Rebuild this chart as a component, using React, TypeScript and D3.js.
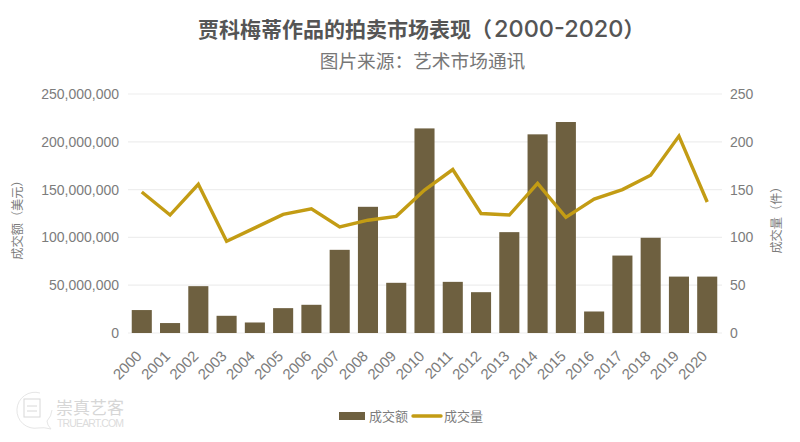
import * as d3 from "d3";
import React, { useEffect, useRef } from "react";

const years = ["2000","2001","2002","2003","2004","2005","2006","2007","2008","2009","2010","2011","2012","2013","2014","2015","2016","2017","2018","2019","2020"];
const turnover = [24, 10.4, 49, 18, 11, 26, 29.5, 87, 132, 52.5, 214, 53.5, 42.7, 105.5, 207.8, 220.7, 22.5, 81, 99.6, 59, 59].map((v) => v * 1000000);
const lots = [147.5, 123.4, 155.5, 96, 110, 124, 130, 111, 118, 122, 149.5, 171, 125, 123.4, 156.5, 121, 140, 150, 165, 206, 137];
const leftTicks = [0, 50000000, 100000000, 150000000, 200000000, 250000000];
const rightTicks = [0, 50, 100, 150, 200, 250];

const width = 800;
const height = 442;
const font = "'Liberation Sans', 'Noto Sans CJK SC', sans-serif";
const barColor = "#6e6040";
const lineColor = "#c39c14";
const textColor = "#7c7c7c";

export default function App() {
  const ref = useRef<SVGSVGElement>(null);

  useEffect(() => {
    const svg = d3.select(ref.current);
    svg.selectAll("*").remove();
    svg.style("font-family", font);

    const x = d3.scaleBand().domain(years).range([127.5, 721.5]).paddingInner(0.29).paddingOuter(0.15);
    const yLeft = d3.scaleLinear().domain([0, 250000000]).range([333, 94]);
    const yRight = d3.scaleLinear().domain([0, 250]).range([333, 94]);

    // titles
    const title = svg.append("text").attr("x", 198).attr("y", 37)
      .attr("font-size", 21).attr("font-weight", 700).attr("fill", "#555555")
      .attr("font-family", "'Noto Sans CJK SC', sans-serif");
    title.append("tspan").text("贾科梅蒂作品的拍卖市场表现（");
    title.append("tspan").attr("dx", 2).attr("font-family", "Inter").attr("font-size", 23.5).attr("font-weight", 500).text("2000-2020");
    title.append("tspan").text("）");
    svg.append("text").attr("x", 422.5).attr("y", 68).attr("text-anchor", "middle")
      .attr("font-size", 18.7).attr("fill", "#777777")
      .text("图片来源：艺术市场通讯");

    // gridlines
    svg.append("g").selectAll("line").data(leftTicks).enter().append("line")
      .attr("x1", 128).attr("x2", 722)
      .attr("y1", (d) => yLeft(d)).attr("y2", (d) => yLeft(d))
      .attr("stroke", "#eeeeee").attr("stroke-width", 1.2);

    // axes
    const left = svg.append("g").attr("transform", "translate(128,0)")
      .call(d3.axisLeft(yLeft).tickValues(leftTicks).tickSize(0).tickPadding(9).tickFormat(d3.format(",")));
    const right = svg.append("g").attr("transform", "translate(722,0)")
      .call(d3.axisRight(yRight).tickValues(rightTicks).tickSize(0).tickPadding(8));
    const bottom = svg.append("g").attr("transform", "translate(0,333)")
      .call(d3.axisBottom(x).tickSize(0));
    [left, right, bottom].forEach((g) => {
      g.select(".domain").remove();
      g.selectAll("text").attr("fill", textColor).attr("font-size", 14).attr("font-family", font);
    });
    bottom.selectAll("text")
      .attr("font-size", 15)
      .attr("text-anchor", "end")
      .attr("dy", 0)
      .attr("y", 0)
      .attr("transform", "translate(1,24) rotate(-45)");

    // bars
    svg.append("g").selectAll("rect").data(years).enter().append("rect")
      .attr("x", (d) => x(d))
      .attr("width", x.bandwidth())
      .attr("y", (d, i) => yLeft(turnover[i]))
      .attr("height", (d, i) => 333 - yLeft(turnover[i]))
      .attr("fill", barColor);

    // line
    const line = d3.line<number>()
      .x((d, i) => x(years[i]) + x.bandwidth() / 2)
      .y((d) => yRight(d));
    svg.append("path").datum(lots).attr("d", line)
      .attr("fill", "none").attr("stroke", lineColor).attr("stroke-width", 3.4);

    // axis titles
    svg.append("text").attr("transform", "translate(22,217) rotate(-90)")
      .attr("text-anchor", "middle").attr("font-size", 12.2).attr("fill", textColor)
      .text("成交额（美元）");
    svg.append("text").attr("transform", "translate(781,217) rotate(-90)")
      .attr("text-anchor", "middle").attr("font-size", 12.2).attr("fill", textColor)
      .text("成交量（件）");

    // legend
    svg.append("rect").attr("x", 339).attr("y", 412).attr("width", 26).attr("height", 8).attr("fill", barColor);
    svg.append("text").attr("x", 369).attr("y", 421).attr("font-size", 13).attr("fill", textColor).text("成交额");
    svg.append("line").attr("x1", 413).attr("x2", 441).attr("y1", 416).attr("y2", 416)
      .attr("stroke", lineColor).attr("stroke-width", 3.4).attr("stroke-linecap", "round");
    svg.append("text").attr("x", 444).attr("y", 421).attr("font-size", 13).attr("fill", textColor).text("成交量");

    // watermark
    const mark = svg.append("g");
    mark.append("path")
      .attr("d", "M 40 393 A 18 18 0 1 0 38 428 Q 44 427 51 429 Q 47 425 47 421 A 18 18 0 0 0 52 410")
      .attr("fill", "none").attr("stroke", "#e6e6e6").attr("stroke-width", 1);
    mark.append("rect").attr("x", 24).attr("y", 399).attr("width", 16).attr("height", 18)
      .attr("fill", "none").attr("stroke", "#d8d8d8");
    mark.append("line").attr("x1", 27).attr("x2", 37).attr("y1", 406).attr("y2", 406).attr("stroke", "#d8d8d8");
    mark.append("line").attr("x1", 27).attr("x2", 37).attr("y1", 411).attr("y2", 411).attr("stroke", "#d8d8d8");
    mark.append("text").attr("x", 56).attr("y", 414).attr("font-size", 17).attr("fill", "#d6d6d6").text("崇真艺客");
    mark.append("text").attr("x", 57).attr("y", 427).attr("font-size", 10.5).attr("textLength", 67).attr("fill", "#dcdcdc").text("TRUEART.COM");
  }, []);

  return <svg ref={ref} width={width} height={height} style={{ position: "absolute", left: 0, top: 0 }} />;
}
